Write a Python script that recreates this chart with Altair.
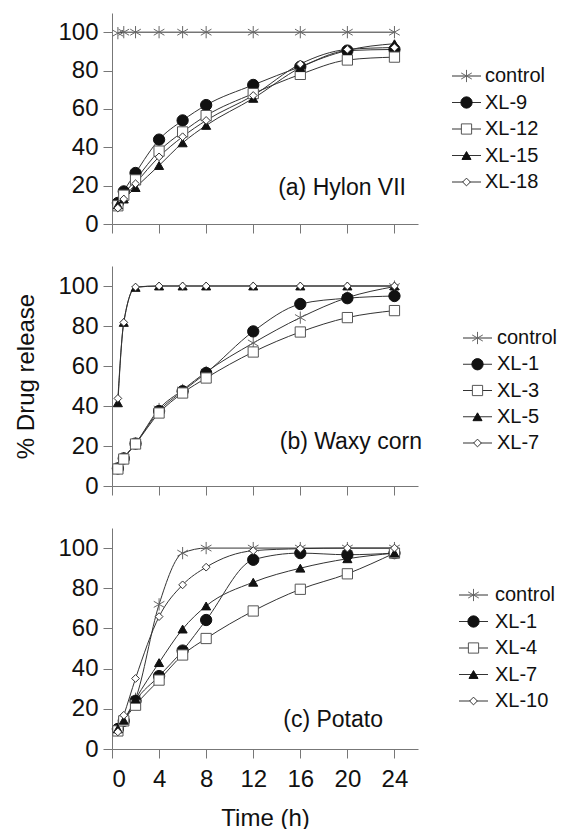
import altair as alt
import pandas as pd

FONT = "Liberation Sans"

times = [0.5, 1, 2, 4, 6, 8, 12, 16, 20, 24]
x_ticks = [0, 4, 8, 12, 16, 20, 24]
y_ticks = [0, 20, 40, 60, 80, 100]
marker_keys = ["star", "dot", "square", "tri", "diamond"]

a_names = ["control", "XL-9", "XL-12", "XL-15", "XL-18"]
a_control = [99.5, 100, 100, 100, 100, 100, 100, 100, 100, 100]
a_xl9 = [11, 17, 26.6, 44, 54, 62, 72.5, 82, 90.4, 91]
a_xl12 = [9.5, 15, 23, 38, 48, 56.5, 68, 78, 85.5, 87]
a_xl15 = [10, 13, 19, 30.5, 42.3, 51.4, 65.5, 81.5, 90.5, 94]
a_xl18 = [8.3, 13, 21, 35, 45.5, 54, 67, 83.4, 91, 92]

b_names = ["control", "XL-1", "XL-3", "XL-5", "XL-7"]
b_control = [8.8, 13.8, 21.2, 38.5, 48, 57, 71.5, 84.2, 94.2, 99.7]
b_xl1 = [8.8, 13.8, 21.2, 37.5, 47.4, 56.5, 77.3, 91, 93.9, 95]
b_xl3 = [8.5, 13.5, 21, 36.5, 46.5, 54, 67, 77, 84.2, 87.7]
b_xl5 = [41.6, 81.8, 99.3, 100, 100, 100, 100, 100, 100, 100]
b_xl7 = [43.8, 81.8, 99.5, 100, 100, 100, 100, 100, 100, 100]

c_names = ["control", "XL-1", "XL-4", "XL-7", "XL-10"]
c_control = [10, 14.3, 25, 72, 97.5, 100, 100, 100, 100, 100]
c_xl1 = [10, 14, 24, 36.3, 49, 64.2, 94.2, 97.5, 96.7, 97.5]
c_xl4 = [9, 14, 21.8, 34.3, 46.8, 55, 68.7, 79.5, 87.2, 97.5]
c_xl7 = [10, 14.3, 24.8, 43, 59.7, 71.2, 83, 90, 94.7, 97.5]
c_xl10 = [8.5, 16.8, 35.1, 65.9, 81.7, 90.5, 98.7, 99.7, 100, 100]

panel_labels = ["(a) Hylon VII", "(b) Waxy corn", "(c) Potato"]

STAR = "M0,-1L0,1M-0.87,-0.5L0.87,0.5M-0.87,0.5L0.87,-0.5"
shape_scale = alt.Scale(domain=marker_keys, range=[STAR, "circle", "square", "triangle-up", "diamond"])
fill_scale = alt.Scale(domain=marker_keys, range=["transparent", "#111111", "#ffffff", "#111111", "#ffffff"])
stroke_scale = alt.Scale(domain=marker_keys, range=["#666666", "#111111", "#555555", "#111111", "#333333"])
size_scale = alt.Scale(domain=marker_keys, range=[150, 60, 45, 65, 75])


def marker_enc():
    return dict(
        shape=alt.Shape("marker:N", scale=shape_scale, legend=None),
        fill=alt.Fill("marker:N", scale=fill_scale, legend=None),
        stroke=alt.Stroke("marker:N", scale=stroke_scale, legend=None),
        size=alt.Size("marker:N", scale=size_scale, legend=None),
    )


def panel(names, series, label, height, lab_x, lab_y, bottom, middle):
    rows = []
    for name, key, vals in zip(names, marker_keys, series):
        for t, v in zip(times, vals):
            rows.append({"time": t, "release": v, "series": name, "marker": key})
    df = pd.DataFrame(rows)
    xaxis = dict(values=x_ticks, labels=bottom, title="Time (h)" if bottom else None)
    yaxis = dict(values=y_ticks, title="% Drug release" if middle else None)
    x = alt.X("time:Q", scale=alt.Scale(domain=[0, 26], nice=False), axis=alt.Axis(**xaxis))
    y = alt.Y("release:Q", scale=alt.Scale(domain=[0, 110], nice=False), axis=alt.Axis(**yaxis))
    base = alt.Chart(df)
    lines = base.mark_line(interpolate="monotone", color="#333333", strokeWidth=1).encode(
        x=x, y=y, detail="series:N")
    pts = base.mark_point(filled=True, opacity=1, strokeWidth=1).encode(x=x, y=y, **marker_enc())
    txt = alt.Chart(pd.DataFrame({"label": [label]})).mark_text(
        align="right", baseline="middle", fontSize=23, font=FONT, color="#111111").encode(
        x=alt.value(lab_x), y=alt.value(lab_y), text="label:N")
    return alt.layer(lines, pts, txt).properties(width=306, height=height)


def legend(names, y_range, x0, tx, height):
    df = pd.DataFrame({"series": names, "marker": marker_keys})
    y = alt.Y("series:N", sort=names, scale=alt.Scale(type="point", range=y_range, padding=0), axis=None)
    base = alt.Chart(df)
    rule = base.mark_rule(color="#333333", strokeWidth=1).encode(
        x=alt.value(x0), x2=alt.value(x0 + 29), y=y)
    pts = base.mark_point(filled=True, opacity=1, strokeWidth=1).encode(
        x=alt.value(x0 + 14.5), y=y, **marker_enc())
    txt = base.mark_text(align="left", baseline="middle", fontSize=20, font=FONT, color="#111111").encode(
        x=alt.value(tx), y=y, text="series:N")
    return alt.layer(rule, pts, txt).properties(width=143, height=height)


row_a = alt.hconcat(
    panel(a_names, [a_control, a_xl9, a_xl12, a_xl15, a_xl18], panel_labels[0], 211, 294, 175, False, False),
    legend(a_names, [63, 169], 34, 67, 211), spacing=0, bounds="flush")
row_b = alt.hconcat(
    panel(b_names, [b_control, b_xl1, b_xl3, b_xl5, b_xl7], panel_labels[1], 220, 310, 176, False, True),
    legend(b_names, [72, 177], 45, 79, 220), spacing=0, bounds="flush")
row_c = alt.hconcat(
    panel(c_names, [c_control, c_xl1, c_xl4, c_xl7, c_xl10], panel_labels[2], 221, 271, 192, True, False),
    legend(c_names, [67, 173], 41, 77, 221), spacing=0, bounds="flush")

chart = alt.vconcat(row_a, row_b, row_c, spacing=30).properties(
    padding={"left": 14, "top": 13, "right": 0, "bottom": 0}
).configure_view(stroke=None).configure_axis(
    labelFont=FONT, titleFont=FONT, labelFontSize=24, titleFontSize=24,
    labelColor="#111111", titleColor="#111111", titleFontWeight="normal",
    domainColor="#777777", tickColor="#777777", tickSize=9, labelPadding=5,
    grid=False, titlePadding=19,
).configure_axisX(labelPadding=9, titlePadding=15)

chart.save("out.html", embed_options={"renderer": "svg", "actions": False})
